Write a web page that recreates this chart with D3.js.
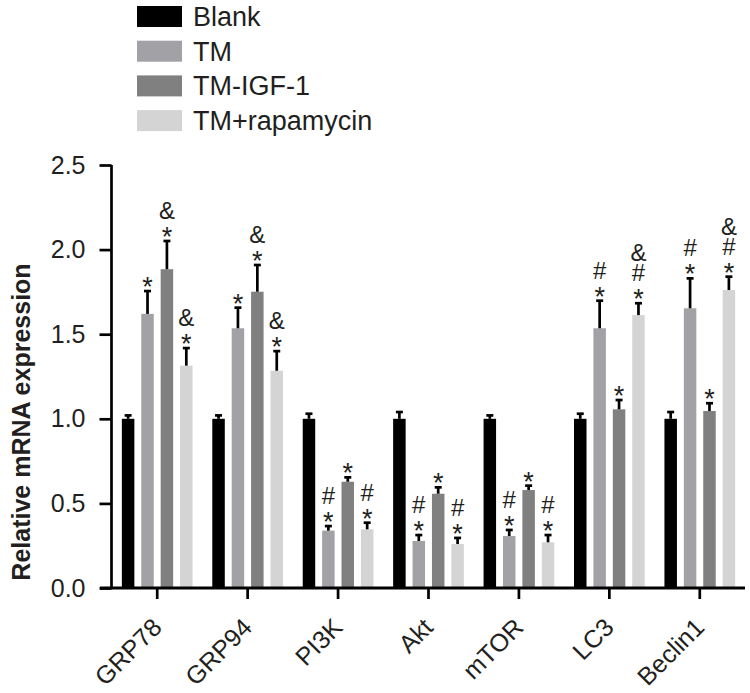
<!DOCTYPE html>
<html>
<head>
<meta charset="utf-8">
<script src="https://cdn.jsdelivr.net/npm/d3@7"></script>
<style>
  html, body { margin: 0; padding: 0; background: #fff; }
  svg { display: block; font-family: "Liberation Sans", Arial, sans-serif; }
</style>
</head>
<body>
<svg id="chart" width="750" height="693"></svg>
<script>
// ---- data ----
const categories = ["GRP78", "GRP94", "PI3K", "Akt", "mTOR", "LC3", "Beclin1"];
const seriesNames = ["Blank", "TM", "TM-IGF-1", "TM+rapamycin"];
const blankValues = [1.00, 1.00, 1.00, 1.00, 1.00, 1.00, 1.00];
const blankErrors = [0.02, 0.02, 0.03, 0.04, 0.02, 0.03, 0.04];
const tmValues = [1.62, 1.535, 0.339, 0.278, 0.307, 1.535, 1.653];
const tmErrors = [0.135, 0.122, 0.027, 0.035, 0.036, 0.163, 0.177];
const igfValues = [1.884, 1.751, 0.628, 0.557, 0.579, 1.056, 1.046];
const igfErrors = [0.167, 0.158, 0.026, 0.038, 0.026, 0.055, 0.046];
const rapaValues = [1.314, 1.284, 0.347, 0.260, 0.270, 1.613, 1.761];
const rapaErrors = [0.104, 0.116, 0.039, 0.036, 0.043, 0.070, 0.079];
// significance marks, listed bottom to top
const blankMarks = ["", "", "", "", "", "", ""];
const tmMarks = ["*", "*", "*#", "*#", "*#", "*#", "*#"];
const igfMarks = ["*&", "*&", "*", "*", "*", "*", "*"];
const rapaMarks = ["*&", "*&", "*#", "*#", "*#", "*#&", "*#&"];
const yTicks = [0, 0.5, 1.0, 1.5, 2.0, 2.5];
const yLabel = "Relative mRNA expression";
const colors = ["#000000", "#a2a2a6", "#808080", "#d4d4d4"];

const seriesValues = [blankValues, tmValues, igfValues, rapaValues];
const seriesErrors = [blankErrors, tmErrors, igfErrors, rapaErrors];
const seriesMarks = [blankMarks, tmMarks, igfMarks, rapaMarks];

const rows = [];
categories.forEach((c, i) => {
  seriesNames.forEach((s, j) => {
    rows.push({cat: c, series: s, si: j, value: seriesValues[j][i], err: seriesErrors[j][i], marks: seriesMarks[j][i]});
  });
});

// ---- layout ----
const svg = d3.select("#chart");
const x0 = d3.scaleBand().domain(categories).range([112, 745]);
const x1 = d3.scaleBand().domain(seriesNames).range([-35.35, 35.35]).paddingInner(0.356);
const y = d3.scaleLinear().domain([0, 2.5]).range([588, 165]);
const color = d3.scaleOrdinal().domain(seriesNames).range(colors);
const cx = c => x0(c) + x0.bandwidth() / 2;
const bx = d => cx(d.cat) + x1(d.series) + x1.bandwidth() / 2;

// bars
svg.append("g").selectAll("rect").data(rows).join("rect")
  .attr("x", d => cx(d.cat) + x1(d.series))
  .attr("y", d => y(d.value))
  .attr("width", x1.bandwidth())
  .attr("height", d => y(0) - y(d.value))
  .attr("fill", d => color(d.series));

// error bars
const eg = svg.append("g").attr("stroke", "#000").attr("stroke-width", 2.7);
eg.selectAll("line.v").data(rows).join("line").attr("class", "v")
  .attr("x1", bx).attr("x2", bx)
  .attr("y1", d => y(d.value))
  .attr("y2", d => y(d.value + d.err));
eg.selectAll("line.c").data(rows).join("line").attr("class", "c")
  .attr("x1", d => bx(d) - 3.5)
  .attr("x2", d => bx(d) + 3.5)
  .attr("y1", d => y(d.value + d.err))
  .attr("y2", d => y(d.value + d.err));

// significance marks: one text per bar, stacked tspans
const markRows = rows.filter(d => d.marks.length > 0);
const mt = svg.append("g").selectAll("text").data(markRows).join("text")
  .attr("text-anchor", "middle")
  .attr("fill", "#231f20");
mt.each(function(d) {
  const t = d3.select(this);
  const xc = bx(d);
  let bottom = y(d.value + d.err) - 7;
  d.marks.split("").forEach((m, k) => {
    if (k > 0) bottom -= (k === 1 ? 15 : 20);
    t.append("tspan")
      .attr("x", xc)
      .attr("y", m === "*" ? bottom + 12 : bottom)
      .attr("font-size", m === "*" ? 27 : 24)
      .text(m);
  });
});

// y axis
const yAxis = svg.append("g").attr("transform", "translate(111.5,0)")
  .call(d3.axisLeft(y).tickValues(yTicks).tickFormat(d3.format(".1f")).tickSize(12).tickPadding(14).tickSizeOuter(0));
yAxis.select(".domain").attr("stroke-width", 2.7).attr("d", "M0," + y(2.5) + "V" + y(0));
yAxis.selectAll(".tick line").attr("stroke-width", 2.7);
yAxis.selectAll(".tick text").attr("font-size", 25).attr("fill", "#231f20")
  .attr("font-family", "Liberation Sans, Arial, sans-serif");

// x axis
const xAxis = svg.append("g").attr("transform", "translate(0,588)")
  .call(d3.axisBottom(x0).tickSize(11).tickSizeOuter(0));
xAxis.select(".domain").attr("stroke-width", 2.8).attr("d", "M100,0H745");
xAxis.selectAll(".tick line").attr("stroke-width", 2.7);
xAxis.selectAll(".tick text")
  .attr("font-size", 25).attr("fill", "#231f20")
  .attr("font-family", "Liberation Sans, Arial, sans-serif")
  .attr("text-anchor", "end")
  .attr("x", 0).attr("y", 0).attr("dy", 0)
  .attr("transform", "translate(6,41) rotate(-45)");

// y label
svg.append("text")
  .attr("transform", "translate(30,422) rotate(-90)")
  .attr("text-anchor", "middle")
  .attr("font-size", 25).attr("font-weight", "bold").attr("fill", "#231f20")
  .text(yLabel);

// legend
const lg = svg.append("g").selectAll("g").data(seriesNames).join("g")
  .attr("transform", (d, i) => "translate(137," + (6 + i * 34.7) + ")");
lg.append("rect").attr("width", 45).attr("height", 21).attr("fill", d => color(d));
lg.append("text").attr("x", 56).attr("y", 20).attr("font-size", 27).attr("fill", "#231f20").text(d => d);
</script>
</body>
</html>
